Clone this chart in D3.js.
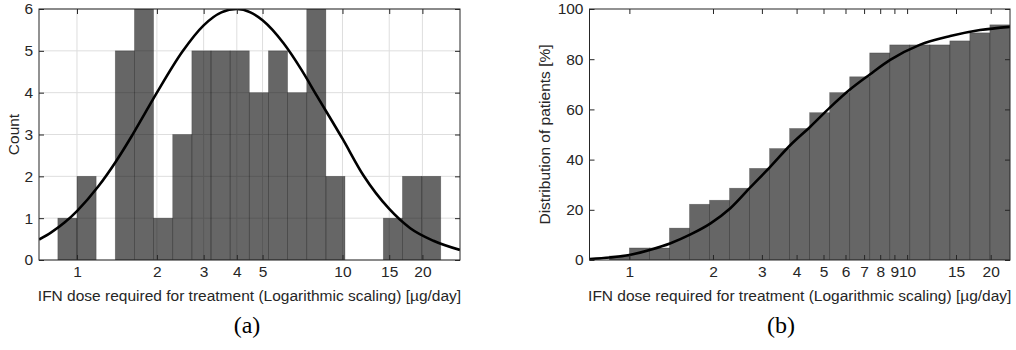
<!DOCTYPE html>
<html>
<head>
<meta charset="utf-8">
<script src="https://cdn.jsdelivr.net/npm/d3@7"></script>
<style>
    body { margin: 0; background: #fff; }
    .tick text { font-family: "Liberation Sans", Arial, sans-serif; font-size: 15.5px; fill: #262626; }
    .tick line { stroke: #262626; }
    .lbl { font-family: "Liberation Sans", Arial, sans-serif; font-size: 15.5px; fill: #262626; }
    .cap { font-family: "Liberation Serif", "DejaVu Serif", serif; font-size: 24px; fill: #000; }
</style>
</head>
<body>
<svg id="fig" width="1016" height="350"></svg>
<script>
// histogram bins (log spaced)
const binEdges = [0.847, 1.0, 1.181, 1.394, 1.646, 1.943, 2.294, 2.708, 3.197, 3.775, 4.457,
    5.262, 6.212, 7.334, 8.659, 10.22, 12.07, 14.25, 16.82, 19.86, 23.45];
const counts = [1, 2, 0, 5, 6, 1, 3, 5, 5, 5, 4, 5, 4, 6, 2, 0, 0, 1, 2, 2];
const cumPercent = [1.6, 4.8, 4.8, 12.7, 22.2, 23.8, 28.6, 36.5, 44.4, 52.4, 58.7, 66.7,
    73.0, 82.5, 85.7, 85.7, 85.7, 87.3, 90.5, 93.7];

// fitted curves
const fitX = [0.72, 0.8, 0.9, 1, 1.2, 1.4, 1.6, 1.8, 2, 2.5, 3, 3.5, 4, 4.5, 5, 6, 7, 8, 10, 12, 15, 18, 22, 27.7];
const fitY = [0.49, 0.66, 0.9, 1.17, 1.75, 2.35, 2.94, 3.5, 4.0, 4.99, 5.61, 5.92, 6.0, 5.92, 5.73, 5.18,
    4.55, 3.93, 2.9, 2.02, 1.22, 0.76, 0.46, 0.24];
const cdfX = [0.72, 0.85, 1, 1.2, 1.4, 1.66, 1.96, 2.31, 2.73, 3.22, 3.8, 4.48, 5.28, 6.24, 7.36, 8.69,
    11.1, 14.3, 18.3, 23.5];
const cdfY = [0.4, 1.0, 2.0, 4.2, 6.6, 10.2, 14.6, 20.6, 29.0, 37.2, 45.8, 53.1, 60.8, 68.0, 74.0, 79.7,
    85.7, 89.2, 91.6, 92.9];

// tick labels
const xTicksA = [1, 2, 3, 4, 5, 10, 15, 20];
const xTicksB = [1, 2, 3, 4, 5, 6, 7, 8, 9, 10, 15, 20];
const yTicksA = [0, 1, 2, 3, 4, 5, 6];
const yTicksB = [0, 20, 40, 60, 80, 100];

const svg = d3.select("#fig");

function panel(opt) {
    let x = d3.scaleLog().domain(opt.xDomain).range([opt.left, opt.right]);
    let y = d3.scaleLinear().domain(opt.yDomain).range([opt.bottom, opt.top]);
    let w = opt.right - opt.left, h = opt.bottom - opt.top;
    let g = svg.append("g");

    let clipId = "clip" + opt.name;
    g.append("clipPath").attr("id", clipId)
        .append("rect").attr("x", opt.left).attr("y", opt.top).attr("width", w).attr("height", h);

    // grid (left panel only)
    if (opt.grid) {
        g.append("g").selectAll("line").data(opt.xTicks).join("line")
            .attr("x1", d => x(d)).attr("x2", d => x(d))
            .attr("y1", opt.top).attr("y2", opt.bottom)
            .attr("stroke", "#dedede").attr("stroke-width", 1);
        g.append("g").selectAll("line").data(opt.yTicks).join("line")
            .attr("x1", opt.left).attr("x2", opt.right)
            .attr("y1", d => y(d)).attr("y2", d => y(d))
            .attr("stroke", "#dedede").attr("stroke-width", 1);
    }

    // bars
    let bars = opt.values.map((v, i) => ({x0: binEdges[i], x1: binEdges[i + 1], v: v})).filter(d => d.v > 0);
    g.append("g").attr("clip-path", "url(#" + clipId + ")")
        .selectAll("rect").data(bars).join("rect")
        .attr("x", d => x(d.x0)).attr("width", d => x(d.x1) - x(d.x0))
        .attr("y", d => y(d.v)).attr("height", d => y(0) - y(d.v))
        .attr("fill", "#000").attr("fill-opacity", 0.6)
        .attr("stroke", "#000").attr("stroke-opacity", 0.3).attr("stroke-width", 0.7);

    // curve
    let line = d3.line().x(d => x(d[0])).y(d => y(d[1])).curve(d3.curveMonotoneX);
    g.append("path").attr("clip-path", "url(#" + clipId + ")")
        .datum(opt.curveX.map((v, i) => [v, opt.curveY[i]]))
        .attr("d", line).attr("fill", "none").attr("stroke", "#000").attr("stroke-width", 2.6);

    // axes, ticks pointing inward
    let ax = g.append("g").attr("transform", "translate(0," + opt.bottom + ")")
        .call(d3.axisBottom(x).tickValues(opt.xTicks).tickFormat(d3.format("d")).tickSize(-5).tickPadding(6));
    let axT = g.append("g").attr("transform", "translate(0," + opt.top + ")")
        .call(d3.axisTop(x).tickValues(opt.xTicks).tickFormat("").tickSize(-5));
    let ay = g.append("g").attr("transform", "translate(" + opt.left + ",0)")
        .call(d3.axisLeft(y).tickValues(opt.yTicks).tickFormat(d3.format("d")).tickSize(-5).tickPadding(6));
    let ayR = g.append("g").attr("transform", "translate(" + opt.right + ",0)")
        .call(d3.axisRight(y).tickValues(opt.yTicks).tickFormat("").tickSize(-5));
    [ax, axT, ay, ayR].forEach(a => { a.select(".domain").remove(); a.attr("font-family", null).attr("font-size", null); });

    g.append("rect").attr("x", opt.left).attr("y", opt.top).attr("width", w).attr("height", h)
        .attr("fill", "none").attr("stroke", "#262626").attr("stroke-width", 1);

    g.append("text").attr("class", "lbl").attr("text-anchor", "middle")
        .attr("x", (opt.left + opt.right) / 2).attr("y", 301)
        .text("IFN dose required for treatment (Logarithmic scaling) [µg/day]");
    g.append("text").attr("class", "lbl").attr("text-anchor", "middle")
        .attr("transform", "translate(" + opt.yLabelX + "," + ((opt.top + opt.bottom) / 2) + ") rotate(-90)")
        .text(opt.yLabel);
    g.append("text").attr("class", "cap").attr("text-anchor", "middle")
        .attr("x", opt.capX).attr("y", 333).text(opt.caption);
}

panel({
    name: "a", left: 39, right: 460, top: 9, bottom: 260,
    xDomain: [0.7194, 27.71], yDomain: [0, 6],
    xTicks: xTicksA, yTicks: yTicksA, grid: true,
    values: counts, curveX: fitX, curveY: fitY,
    yLabel: "Count", yLabelX: 19, caption: "(a)", capX: 247
});

panel({
    name: "b", left: 589.5, right: 1010, top: 9, bottom: 260,
    xDomain: [0.7184, 23.47], yDomain: [0, 100],
    xTicks: xTicksB, yTicks: yTicksB, grid: false,
    values: cumPercent, curveX: cdfX, curveY: cdfY,
    yLabel: "Distribution of patients [%]", yLabelX: 550, caption: "(b)", capX: 781
});
</script>
</body>
</html>
